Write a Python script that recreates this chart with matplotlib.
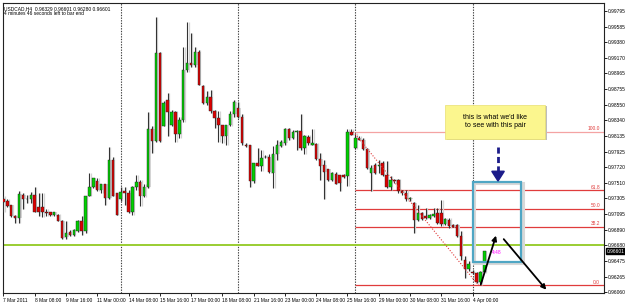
import numpy as np
import matplotlib
matplotlib.use('Agg')
import matplotlib.pyplot as plt
from matplotlib.patches import Rectangle
import matplotlib.transforms as mtransforms

plt.rcParams['font.family'] = ['Liberation Sans', 'DejaVu Sans']

# USDCAD H4 candles, 7 Mar 2011 .. 4 Apr 2011
opens = [0.9730, 0.9727, 0.9721, 0.9707, 0.9705, 0.9735, 0.9729, 0.9730, 0.9735, 0.9719,
         0.9719, 0.9713, 0.9712, 0.9708, 0.9708, 0.9701, 0.9679, 0.9686, 0.9682, 0.9687,
         0.9701, 0.9687, 0.9734, 0.9746, 0.9754, 0.9741, 0.9749, 0.9731, 0.9782, 0.9738,
         0.9729, 0.9740, 0.9738, 0.9712, 0.9745, 0.9752, 0.9733, 0.9746, 0.9823, 0.9807,
         0.9923, 0.9827, 0.9861, 0.9828, 0.9845, 0.9816, 0.9834, 0.9901, 0.9910, 0.9908,
         0.9925, 0.9880, 0.9857, 0.9865, 0.9846, 0.9837, 0.9828, 0.9814, 0.9828, 0.9842,
         0.9850, 0.9839, 0.9802, 0.9801, 0.9754, 0.9777, 0.9773, 0.9785, 0.9786, 0.9764,
         0.9789, 0.9800, 0.9804, 0.9822, 0.9811, 0.9819, 0.9820, 0.9797, 0.9812, 0.9802,
         0.9803, 0.9783, 0.9775, 0.9769, 0.9755, 0.9763, 0.9762, 0.9762, 0.9760, 0.9819,
         0.9797, 0.9811, 0.9808, 0.9796, 0.9764, 0.9775, 0.9773, 0.9778, 0.9761, 0.9746,
         0.9755, 0.9755, 0.9740, 0.9738, 0.9729, 0.9724, 0.9702, 0.9711, 0.9707, 0.9704,
         0.9707, 0.9711, 0.9711, 0.9696, 0.9702, 0.9695, 0.9695, 0.9680, 0.9649, 0.9636,
         0.9633, 0.9631, 0.9619, 0.9632]
highs = [0.9733, 0.9729, 0.9722, 0.9709, 0.9740, 0.9738, 0.9735, 0.9739, 0.9745, 0.9738,
         0.9738, 0.9716, 0.9713, 0.9713, 0.9710, 0.9702, 0.9701, 0.9688, 0.9690, 0.9702,
         0.9707, 0.9734, 0.9764, 0.9757, 0.9758, 0.9750, 0.9749, 0.9799, 0.9785, 0.9738,
         0.9746, 0.9746, 0.9742, 0.9747, 0.9762, 0.9755, 0.9749, 0.9845, 0.9826, 0.9972,
         0.9925, 0.9860, 0.9871, 0.9848, 0.9846, 0.9839, 0.9932, 0.9965, 0.9950, 0.9932,
         0.9928, 0.9881, 0.9873, 0.9875, 0.9848, 0.9846, 0.9828, 0.9828, 0.9846, 0.9861,
         0.9858, 0.9842, 0.9804, 0.9802, 0.9777, 0.9797, 0.9795, 0.9788, 0.9789, 0.9800,
         0.9808, 0.9808, 0.9824, 0.9824, 0.9821, 0.9821, 0.9842, 0.9815, 0.9815, 0.9822,
         0.9804, 0.9791, 0.9782, 0.9770, 0.9765, 0.9766, 0.9762, 0.9763, 0.9822, 0.9822,
         0.9817, 0.9813, 0.9811, 0.9797, 0.9775, 0.9777, 0.9782, 0.9780, 0.9780, 0.9760,
         0.9756, 0.9756, 0.9741, 0.9742, 0.9732, 0.9725, 0.9721, 0.9712, 0.9718, 0.9710,
         0.9718, 0.9717, 0.9728, 0.9704, 0.9705, 0.9696, 0.9696, 0.9687, 0.9654, 0.9647,
         0.9635, 0.9633, 0.9634, 0.9661]
lows = [0.9713, 0.9719, 0.9706, 0.9698, 0.9698, 0.9716, 0.9724, 0.9724, 0.9713, 0.9707,
        0.9706, 0.9707, 0.9707, 0.9707, 0.9700, 0.9676, 0.9676, 0.9680, 0.9680, 0.9686,
        0.9682, 0.9685, 0.9733, 0.9744, 0.9740, 0.9738, 0.9721, 0.9729, 0.9733, 0.9708,
        0.9727, 0.9721, 0.9711, 0.9709, 0.9742, 0.9720, 0.9732, 0.9744, 0.9791, 0.9806,
        0.9805, 0.9826, 0.9813, 0.9826, 0.9805, 0.9811, 0.9832, 0.9899, 0.9905, 0.9905,
        0.9881, 0.9856, 0.9855, 0.9844, 0.9824, 0.9806, 0.9804, 0.9802, 0.9826, 0.9839,
        0.9837, 0.9802, 0.9799, 0.9746, 0.9751, 0.9773, 0.9767, 0.9784, 0.9764, 0.9744,
        0.9782, 0.9799, 0.9802, 0.9808, 0.9810, 0.9795, 0.9795, 0.9789, 0.9801, 0.9801,
        0.9782, 0.9755, 0.9729, 0.9754, 0.9753, 0.9749, 0.9740, 0.9758, 0.9747, 0.9815,
        0.9796, 0.9808, 0.9795, 0.9769, 0.9740, 0.9763, 0.9764, 0.9760, 0.9744, 0.9742,
        0.9751, 0.9738, 0.9735, 0.9727, 0.9727, 0.9685, 0.9700, 0.9702, 0.9703, 0.9703,
        0.9706, 0.9697, 0.9694, 0.9695, 0.9691, 0.9692, 0.9679, 0.9649, 0.9625, 0.9634,
        0.9630, 0.9618, 0.9615, 0.9631]
closes = [0.9725, 0.9720, 0.9707, 0.9704, 0.9736, 0.9730, 0.9730, 0.9735, 0.9713, 0.9713,
          0.9713, 0.9711, 0.9708, 0.9712, 0.9701, 0.9678, 0.9685, 0.9682, 0.9688, 0.9700,
          0.9687, 0.9734, 0.9746, 0.9757, 0.9741, 0.9749, 0.9731, 0.9782, 0.9733, 0.9708,
          0.9739, 0.9738, 0.9712, 0.9745, 0.9752, 0.9734, 0.9746, 0.9823, 0.9807, 0.9923,
          0.9807, 0.9857, 0.9845, 0.9845, 0.9816, 0.9834, 0.9901, 0.9910, 0.9908, 0.9925,
          0.9881, 0.9857, 0.9865, 0.9846, 0.9837, 0.9828, 0.9814, 0.9828, 0.9842, 0.9858,
          0.9839, 0.9804, 0.9800, 0.9754, 0.9777, 0.9774, 0.9784, 0.9786, 0.9765, 0.9789,
          0.9802, 0.9806, 0.9822, 0.9811, 0.9819, 0.9820, 0.9797, 0.9813, 0.9804, 0.9804,
          0.9783, 0.9774, 0.9766, 0.9755, 0.9764, 0.9749, 0.9751, 0.9759, 0.9819, 0.9815,
          0.9811, 0.9808, 0.9796, 0.9771, 0.9771, 0.9764, 0.9775, 0.9761, 0.9746, 0.9755,
          0.9753, 0.9740, 0.9737, 0.9729, 0.9731, 0.9702, 0.9711, 0.9703, 0.9704, 0.9709,
          0.9710, 0.9698, 0.9696, 0.9703, 0.9694, 0.9693, 0.9680, 0.9654, 0.9636, 0.9643,
          0.9631, 0.9619, 0.9632, 0.96601]

x_ticks = list(range(0, 121, 8))
x_labels = ['7 Mar 2011', '8 Mar 08:00', '9 Mar 16:00', '11 Mar 00:00', '14 Mar 08:00',
            '15 Mar 16:00', '17 Mar 00:00', '18 Mar 08:00', '21 Mar 16:00', '23 Mar 00:00',
            '24 Mar 08:00', '25 Mar 16:00', '29 Mar 00:00', '30 Mar 08:00', '31 Mar 16:00',
            '4 Apr 00:00']
week_starts = [30, 60, 90, 120]
y_ticks = [0.99795, 0.99585, 0.99380, 0.99170, 0.98965, 0.98755, 0.98550, 0.98340, 0.98135,
           0.97925, 0.97720, 0.97510, 0.97305, 0.97095, 0.96890, 0.96680, 0.96475, 0.96265,
           0.96060]

# fibonacci retracement drawn from the 25 Mar high to the 4 Apr low
fib_high, fib_low = 0.98190, 0.96148
fib_start, fib_end = 89.5, 121.5
fib_levels = [100.0, 61.8, 50.0, 38.2, 0.0]
support = 0.96680
last_price = 0.96601

ylo, yhi = 0.96047, 0.99901
xlo, xhi = -0.1, 153.6
small = 3.5

fig = plt.figure(figsize=(6.25, 3.04), dpi=100)
ax = fig.add_axes([3 / 625, 11 / 304, 601 / 625, 290 / 304])
ax.set_xlim(xlo, xhi)
ax.set_ylim(ylo, yhi)

# week separators
for w in week_starts:
    ax.axvline(w, color='#404040', lw=0.8, ls=(0, (1.2, 1.2)), zorder=1)

# horizontal support line
ax.axhline(support, color='#9acd32', lw=1.4, zorder=2)

# candles
up_col, dn_col = '#00d000', '#dd0000'
bw = 0.62
for i in range(len(opens)):
    o, h, l, c = opens[i], highs[i], lows[i], closes[i]
    ax.vlines(i + 0.35, l, h, color='#d4d4d4', lw=0.9, zorder=3)
    ax.vlines(i, l, h, color='#333333', lw=0.8, zorder=4)
    bot = min(o, c)
    height = max(abs(c - o), 0.00005)
    ax.add_patch(Rectangle((i - bw / 2 + 0.35, bot), bw, height, facecolor='#d4d4d4',
                           edgecolor='none', zorder=3))
    ax.add_patch(Rectangle((i - bw / 2, bot), bw, height,
                           facecolor=up_col if c >= o else dn_col,
                           edgecolor='#222222', lw=0.3, zorder=5))

# fibo levels
fib_range = fib_high - fib_low
for lev in fib_levels:
    p = fib_low + fib_range * lev / 100.0
    col = '#f4a3a3' if lev == 100.0 else '#e03c3c'
    ax.hlines(p, fib_start + 0.5, xhi, color=col, lw=0.9, zorder=2)
    ax.text(xhi - 1.0, p + 0.00008, '%.1f' % lev, color='#e03c3c', fontsize=small,
            ha='right', va='bottom', zorder=6)
ax.plot([fib_start, fib_end], [fib_high, fib_low], color='#e03c3c', lw=0.8,
        ls=(0, (1, 1.5)), zorder=6)

# teal projection box
ax.add_patch(Rectangle((120.3, 0.96440), 12.5, 0.01070, fill=False, edgecolor='#d8d8d8',
                       lw=2.2, zorder=6))
ax.add_patch(Rectangle((120.0, 0.96459), 12.5, 0.01063, fill=False, edgecolor='#4fa6c4',
                       lw=1.6, zorder=7))

# callout
ax.add_patch(Rectangle((113.4, 0.98074), 25.5, 0.00452, facecolor='#bdbdbd',
                       edgecolor='none', zorder=7))
ax.add_patch(Rectangle((113.0, 0.98094), 25.5, 0.00452, facecolor='#fbf68e',
                       edgecolor='#e8e070', lw=0.5, zorder=8))
ax.text(125.75, 0.98325, "this is what we'd like\nto see with this pair", fontsize=5,
        ha='center', va='center', linespacing=1.15, zorder=9)

# navy dashed arrow
ax.plot([126.5, 126.5], [0.97988, 0.97640], color='#1c1c8a', lw=2.0, ls=(0, (2.2, 1.2)),
        zorder=9)
ax.fill([124.9, 128.1, 126.5], [0.97665, 0.97665, 0.97535], color='#1c1c8a', zorder=9)

# black projection arrows
ax.annotate('', xy=(126.2, 0.96845), xytext=(121.9, 0.96127),
            arrowprops=dict(arrowstyle='-|>', color='black', lw=1.3, mutation_scale=7),
            zorder=9)
ax.annotate('', xy=(139.3, 0.96062), xytext=(127.5, 0.96791),
            arrowprops=dict(arrowstyle='-|>', color='black', lw=1.3, mutation_scale=7),
            zorder=9)

# bar timer
ax.text(125.0, 0.96579, '4:48', color='#ff00ff', fontsize=small, ha='left', va='center',
        zorder=9)

# header text
ax.text(0.002, 0.99, 'USDCAD,H4  0.96329 0.96601 0.96280 0.96601', transform=ax.transAxes,
        fontsize=small, ha='left', va='top', zorder=10)
ax.text(0.002, 0.974, '4 minutes 46 seconds left to bar end', transform=ax.transAxes,
        fontsize=small, ha='left', va='top', zorder=10)

# axes
ax.yaxis.tick_right()
ax.set_yticks(y_ticks)
ax.set_yticklabels(['%.5f' % v for v in y_ticks])
ax.set_xticks(x_ticks)
ax.set_xticklabels(x_labels, ha='left')
ax.tick_params(axis='y', length=2, width=0.6, labelsize=small, pad=1.0, colors='black')
ax.tick_params(axis='x', length=2, width=0.6, labelsize=small, pad=1.5)
for s in ax.spines.values():
    s.set_color('#222222')
    s.set_linewidth(0.8)

# last price marker on the price scale
trans = mtransforms.blended_transform_factory(ax.transAxes, ax.transData)
ax.text(1.004, last_price, '%.5f' % last_price, transform=trans, color='white',
        fontsize=small, ha='left', va='center', zorder=11,
        bbox=dict(boxstyle='square,pad=0.1', facecolor='black', edgecolor='black'))

fig.savefig('out.png', dpi=100, facecolor='white')
